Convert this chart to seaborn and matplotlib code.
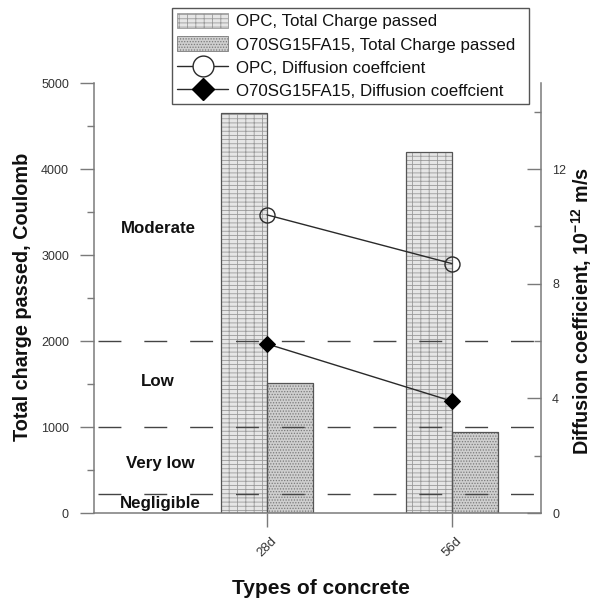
import numpy as np
import pandas as pd
import matplotlib
matplotlib.use("Agg")
import matplotlib.pyplot as plt
import matplotlib.transforms as mtransforms
from matplotlib.patches import Patch, Rectangle
from matplotlib.lines import Line2D
from matplotlib.ticker import MultipleLocator
import seaborn as sns

# ---------------- data ----------------
ages = ["28d", "56d"]
series = ["OPC", "O70SG15FA15"]
charge_opc = [4650, 4200]
charge_o70 = [1510, 940]
diff_opc = [10.4, 8.7]
diff_o70 = [5.9, 3.9]
thresholds = [2000, 1000, 220]
class_labels = ["Moderate", "Low", "Very low", "Negligible"]
class_label_y = [3310, 1530, 580, 105]
legend_labels = [
    "OPC, Total Charge passed",
    "O70SG15FA15, Total Charge passed",
    "OPC, Diffusion coeffcient",
    "O70SG15FA15, Diffusion coeffcient",
]

# ---------------- style ----------------
sns.set_theme(style="white")
plt.rcParams["font.family"] = ["Liberation Sans", "DejaVu Sans"]
plt.rcParams["hatch.linewidth"] = 0.6
plt.rcParams["mathtext.fontset"] = "custom"
plt.rcParams["mathtext.rm"] = "Liberation Sans:bold"
plt.rcParams["mathtext.default"] = "rm"

SPINE = "#7a7a7a"
TICKTXT = "#333333"
LINEC = "#2a2a2a"
BAR_FACE = ["#e6e6e6", "#cfcfcf"]
BAR_HATCH = ["----||", "......"]
HATCH_COL = ["#9a9a9a", "#7a7a7a"]
BAR_EDGE = "#555555"

df_bar = pd.DataFrame({
    "age": ages * 2,
    "series": [series[0]] * len(ages) + [series[1]] * len(ages),
    "charge": charge_opc + charge_o70,
})
df_line = pd.DataFrame({
    "age": ages * 2,
    "series": [series[0]] * len(ages) + [series[1]] * len(ages),
    "diff": diff_opc + diff_o70,
})

W, H = 593, 605
fig = plt.figure(figsize=(W / 100, H / 100), dpi=100)
ax = fig.add_axes([94 / W, 1 - 513 / H, 447 / W, 430 / H])

sns.barplot(data=df_bar, x="age", y="charge", hue="series", order=ages,
            hue_order=series, width=0.5, dodge=True, palette=BAR_FACE,
            saturation=1, linewidth=0.6, legend=False, ax=ax, zorder=2)

outlines = []
for i, cont in enumerate(ax.containers):
    for p in cont:
        p.set_hatch(BAR_HATCH[i])
        p.set_edgecolor(HATCH_COL[i])
        p.set_facecolor(BAR_FACE[i])
        outlines.append(Rectangle(p.get_xy(), p.get_width(), p.get_height(),
                                  fill=False, edgecolor=BAR_EDGE, lw=0.9, zorder=2.5))
for r in outlines:
    ax.add_patch(r)

# threshold dashed lines
for t in thresholds:
    ax.axhline(t, xmin=0.01, xmax=1.0, color="#444444", lw=1.0,
               linestyle=(0, (16.5, 16.5)), zorder=3)

# class labels
trans = mtransforms.blended_transform_factory(ax.transAxes, ax.transData)
label_x = [0.143, 0.143, 0.148, 0.148]
for lab, ly, lx in zip(class_labels, class_label_y, label_x):
    ax.text(lx, ly, lab, transform=trans, ha="center", va="center",
            fontsize=12.2, fontweight="bold", color="#111111")

ax.set_xlim(-0.935, 1.481)
ax.set_ylim(0, 5000)
ax.yaxis.set_major_locator(MultipleLocator(1000))
ax.yaxis.set_minor_locator(MultipleLocator(500))
ax.tick_params(axis="y", which="major", direction="out", length=10, width=1,
               color=SPINE, labelsize=9, labelcolor=TICKTXT, pad=8, left=True)
ax.tick_params(axis="y", which="minor", direction="out", length=5, width=1,
               color=SPINE, left=True)
ax.tick_params(axis="x", which="major", direction="out", length=10, width=1,
               color=SPINE, labelsize=9.5, labelcolor=TICKTXT, pad=6, bottom=True)
for lbl in ax.get_xticklabels():
    lbl.set_rotation(45)
    lbl.set_ha("center")
    lbl.set_va("top")

for s in ["top", "right"]:
    ax.spines[s].set_visible(False)
for s in ["left", "bottom"]:
    ax.spines[s].set_color(SPINE)
    ax.spines[s].set_linewidth(1.1)

ax.set_xlabel("Types of concrete", fontsize=15, fontweight="bold", color="#111111")
ax.xaxis.set_label_coords(0.508, -0.153)
ax.set_ylabel("Total charge passed, Coulomb", fontsize=14.3, fontweight="bold", color="#111111")
ax.yaxis.set_label_coords(-0.139, 0.502)

# ---------------- secondary axis ----------------
ax2 = ax.twinx()
sns.lineplot(data=df_line, x="age", y="diff", hue="series", style="series",
             hue_order=series, style_order=series,
             markers={series[0]: "o", series[1]: "D"}, dashes=False,
             palette=[LINEC, LINEC], legend=False, ax=ax2, lw=1.0, sort=False)
ln_opc, ln_o70 = ax2.lines[0], ax2.lines[1]
ln_opc.set_markerfacecolor("none")
ln_opc.set_markeredgecolor(LINEC)
ln_opc.set_markeredgewidth(1.0)
ln_opc.set_markersize(10.8)
ln_o70.set_markerfacecolor("black")
ln_o70.set_markeredgecolor("black")
ln_o70.set_markersize(7.8)

ax2.set_xlim(-0.935, 1.481)
ax2.set_ylim(0, 15)
ax2.yaxis.set_major_locator(MultipleLocator(4))
ax2.yaxis.set_minor_locator(MultipleLocator(2))
ax2.tick_params(axis="y", which="major", direction="in", length=10, width=1,
                color=SPINE, labelsize=9, labelcolor=TICKTXT, pad=8, right=True)
ax2.tick_params(axis="y", which="minor", direction="in", length=5, width=1,
                color=SPINE, right=True)
for s in ["top", "left", "bottom"]:
    ax2.spines[s].set_visible(False)
ax2.spines["right"].set_color(SPINE)
ax2.spines["right"].set_linewidth(1.1)
ax2.set_ylabel("Diffusion coefficient, 10$^{-12}$ m/s", fontsize=14.2,
               fontweight="bold", color="#111111", rotation=90)
ax2.yaxis.set_label_coords(1.063, 0.47)
ax2.set_xlabel("")

# ---------------- legend ----------------
handles = [
    Patch(facecolor=BAR_FACE[0], edgecolor=HATCH_COL[0], hatch=BAR_HATCH[0], lw=0.6),
    Patch(facecolor=BAR_FACE[1], edgecolor=HATCH_COL[1], hatch=BAR_HATCH[1], lw=0.6),
    Line2D([], [], color=LINEC, lw=1.0, marker="o", markersize=15,
           markerfacecolor="white", markeredgecolor=LINEC, markeredgewidth=1.0),
    Line2D([], [], color=LINEC, lw=1.0, marker="D", markersize=11,
           markerfacecolor="black", markeredgecolor="black"),
]
leg = fig.legend(handles, legend_labels, loc="upper left",
                 bbox_to_anchor=(172 / W, 1 - 107 / H, 357 / W, 99 / H),
                 mode="expand", frameon=True, fancybox=False,
                 edgecolor="#555555", framealpha=1, fontsize=12.2, handlelength=3.0,
                 handleheight=1.0, handletextpad=0.45, labelspacing=0.4,
                 borderpad=0.3, borderaxespad=0)
leg.get_frame().set_linewidth(1.0)
for t in leg.get_texts():
    t.set_color("#111111")

fig.savefig("out.png", dpi=100)
